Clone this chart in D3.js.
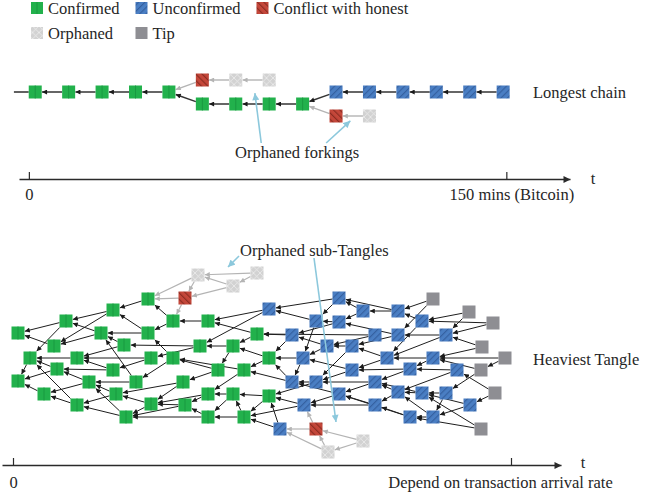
<!DOCTYPE html>
<html><head><meta charset="utf-8">
<script src="https://cdn.jsdelivr.net/npm/d3@7"></script>
<style>
body{margin:0;background:#fff}
svg{display:block}
</style>
</head><body><svg id="c" width="667" height="498"></svg>
<script>
// ---------------- DATA ----------------
const legendLabels = ["Confirmed","Unconfirmed","Conflict with honest","Orphaned","Tip"];
const legendTypes  = ["G","B","R","O","T"];

// Longest chain: [id, time (min), lane, type]
const chainNodes = [
  ["c1",2,0,"G"],["c2",12.5,0,"G"],["c3",23,0,"G"],["c4",33.5,0,"G"],["c5",44,0,"G"],
  ["f1",54.5,-1,"R"],["f2",65,-1,"O"],["f3",75.5,-1,"O"],
  ["c6",54.5,1,"G"],["c7",65,1,"G"],["c8",75.5,1,"G"],["c9",86,1,"G"],
  ["c10",96.5,0,"B"],["c11",107,0,"B"],["c12",117.5,0,"B"],["c13",128,0,"B"],["c14",138.5,0,"B"],["c15",149,0,"B"],
  ["f4",96.5,2,"R"],["f5",107,2,"O"]
];
const chainEdges = [
  ["c2","c1"],["c3","c2"],["c4","c3"],["c5","c4"],
  ["f1","c5"],["f2","f1"],["f3","f2"],
  ["c6","c5"],["c7","c6"],["c8","c7"],["c9","c8"],
  ["c10","c9"],["c11","c10"],["c12","c11"],["c13","c12"],["c14","c13"],["c15","c14"],
  ["f4","c9"],["f5","f4"]
];
const chainLeadIn = -4.7;
const chainTicks = [0,150];
const chainTickLabels = ["0","150 mins (Bitcoin)"];
const chainAnnotations = [[73,4.25,71,0.1],[93.4,4.25,101,2.4]];

// Tangle: [id, time, vertical position]
const tangleConfirmed = [
  ["g1",5,63],["g2",53,51],["g3",100,40],["g4",135,29],["g5",88,63],["g6",135,63],["g7",41,76],["g8",111,75],
  ["g9",17,88],["g10",64,88],["g11",138,88],["g12",160,88],["g13",44,99],["g14",100,100],["g15",5,111],
  ["g16",76,112],["g17",123,112],["g18",170,112],["g19",31,124],["g20",103,124],["g21",64,135],["g22",138,134],
  ["g23",172,135],["g24",113,147],["g25",160,51],["g26",195,51],["g27",187,76],["g28",220,76],["g29",205,100],
  ["g30",231,100],["g31",195,124],["g32",220,124],["g33",195,147],["g34",231,147],["g35",244,64],["g36",256,88],["g37",256,126]
];
const tangleUnconfirmed = [
  ["b1",256,39],["b2",326,28],["b3",350,41],["b4",385,41],["b5",303,51],["b6",326,52],["b7",409,51],
  ["b8",279,65],["b9",362,65],["b10",385,65],["b11",433,65],["b12",314,76],["b13",339,76],["b14",290,88],
  ["b15",374,88],["b16",420,88],["b17",339,100],["b18",397,99],["b19",444,100],["b20",279,112],["b21",303,112],
  ["b22",362,112],["b23",326,124],["b24",385,122],["b25",409,123],["b26",433,123],["b27",291,135],["b28",362,135],
  ["b29",457,135],["b30",397,147],["b31",420,147],["b32",267,159]
];
const tangleTips = [
  ["t1",420,29],["t2",456,42],["t3",480,53],["t4",469,77],["t5",492,88],["t6",468,100],["t7",482,123],["t8",468,159]
];
const tangleConflict = [["r1",172,28],["r2",303,159]];
const tangleOrphaned = [["o1",185,5],["o2",220,16],["o3",244,3],["o4",350,171],["o5",315,182]];

const tangleEdges = [
  ["g9","g15"],["g19","g15"],["g7","g1"],["g13","g15"],["g13","g9"],["g2","g1"],["g2","g9"],["g10","g9"],
  ["g21","g9"],["g21","g19"],["g16","g13"],["g16","g19"],["g5","g2"],["g5","g7"],["g3","g2"],["g3","g7"],
  ["g14","g13"],["g14","g10"],["g20","g16"],["g20","g21"],["g8","g5"],["g8","g10"],["g24","g16"],["g24","g21"],
  ["g17","g16"],["g17","g5"],["g4","g3"],["g6","g5"],["g6","g3"],["g11","g10"],["g11","g14"],["g22","g20"],["g22","g24"],
  ["g12","g6"],["g12","g17"],["g25","g4"],["g25","g6"],["g18","g20"],["g18","g22"],["g23","g24"],["g23","g22"],
  ["g27","g8"],["g27","g11"],["g26","g25"],["g31","g22"],["g31","g23"],["g33","g23"],["g33","g24"],
  ["g29","g18"],["g29","g12"],["g28","g29"],["g28","g27"],["g32","g31"],["g32","g33"],["g30","g31"],["g30","g12"],
  ["g34","g33"],["g34","g32"],["g35","g26"],["g35","g28"],["g36","g28"],["g36","g30"],["g37","g32"],["g37","g34"],
  ["b1","g26"],["b1","g27"],["b8","g35"],["b8","g36"],["b20","g36"],["b20","g30"],["b14","b20"],["b14","g36"],
  ["b27","g37"],["b27","g34"],["b32","g37"],["b32","g34"],["b5","b1"],["b5","b14"],["b21","b20"],["b21","g37"],
  ["b12","b14"],["b12","b8"],["b2","b1"],["b2","b5"],["b6","b5"],["b6","b8"],["b23","b20"],["b23","b27"],
  ["b13","b12"],["b13","b21"],["b17","b21"],["b17","b14"],["b3","b2"],["b3","b6"],["b9","g35"],["b9","b12"],
  ["b22","b23"],["b22","b21"],["b28","b27"],["b28","b23"],["b15","b13"],["b15","b17"],["b4","b2"],["b4","b3"],
  ["b10","b6"],["b10","b13"],["b24","b22"],["b24","b28"],["b18","b17"],["b18","b22"],["b30","b28"],["b30","b23"],
  ["b7","b4"],["b7","b15"],["b25","b24"],["b25","b22"],["b16","b18"],["b16","b15"],["b31","b30"],["b31","b24"],
  ["b11","b10"],["b11","b15"],["b26","b31"],["b26","b25"],["b19","b24"],["b19","b18"],["b29","b31"],["b29","b25"],
  ["t1","b4"],["t1","b10"],["t2","b7"],["t2","b11"],["t3","b7"],["t3","b11"],["t4","b11"],["t4","b16"],
  ["t5","b16"],["t5","t6"],["t6","b26"],["t6","b16"],["t7","b19"],["t7","b29"],["t8","b30"],["t8","b25"]
];
const tangleOrphanEdges = [
  ["r1","g4"],["r1","g25"],["o1","g4"],["o1","r1"],["o2","o1"],["o2","r1"],["o3","o1"],["o3","o2"],
  ["r2","b32"],["r2","b27"],["o4","r2"],["o4","o5"],["o5","r2"],["o5","b32"]
];
const tangleTicks = [0,498];
const tangleTickLabels = ["0","Depend on transaction arrival rate"];
const tangleAnnotations = [[226,-14,215,-3],[301,-12,323,152]];

// ---------------- RENDER ----------------
const FONT = "'Liberation Serif','Times New Roman',serif";
const TXT = "#262626";
const svg = d3.select("#c");
const defs = svg.append("defs");

function hatch(id, fill, stroke, angle, size, sw){
  const p = defs.append("pattern").attr("id",id).attr("patternUnits","userSpaceOnUse")
    .attr("width",size).attr("height",size).attr("patternTransform",`rotate(${angle})`);
  p.append("rect").attr("width",size).attr("height",size).attr("fill",fill);
  p.append("line").attr("x1",0.5).attr("y1",0).attr("x2",0.5).attr("y2",size).attr("stroke",stroke).attr("stroke-width",sw);
}
hatch("pB","#4a7ec3","#3560a0",45,4.5,1.3);
hatch("pR","#c4473a","#8c2c22",-45,4.5,1.3);
{
  const p = defs.append("pattern").attr("id","pO").attr("patternUnits","userSpaceOnUse").attr("width",6.5).attr("height",6.5);
  p.append("rect").attr("width",6.5).attr("height",6.5).attr("fill","#d2d2d2");
  p.append("path").attr("d","M0,0L6.5,6.5M6.5,0L0,6.5").attr("stroke","#ececec").attr("stroke-width",0.8);
}
function marker(id, color, w, h){
  defs.append("marker").attr("id",id).attr("viewBox","0 0 10 10").attr("refX",10).attr("refY",5)
    .attr("markerWidth",w).attr("markerHeight",h).attr("markerUnits","userSpaceOnUse").attr("orient","auto")
    .append("path").attr("d","M0,0L10,5L0,10z").attr("fill",color);
}
marker("mk","#1a1a1a",6,5);
marker("mg","#b4b4b4",6,5);
marker("ma","#2a2a2a",9,7);
marker("mb","#8cc8dc",8,7);

const fills = {G:"#22b14c", B:"url(#pB)", R:"url(#pR)", O:"url(#pO)", T:"#8e8e93"};
const S = 13;

function drawNodes(g, nodes){
  g.selectAll("rect.n").data(nodes).join("rect").attr("class","n")
    .attr("x",d=>d.x-S/2).attr("y",d=>d.y-S/2).attr("width",S).attr("height",S).attr("fill",d=>fills[d.type]);
  g.selectAll("line.n").data(nodes.filter(d=>d.type==="G")).join("line").attr("class","n")
    .attr("x1",d=>d.x).attr("x2",d=>d.x).attr("y1",d=>d.y-S/2).attr("y2",d=>d.y+S/2)
    .attr("stroke","#189640").attr("stroke-width",0.9);
}
function ends(s,t){
  const dx=t.x-s.x, dy=t.y-s.y, m=Math.max(Math.abs(dx),Math.abs(dy));
  const f1=(S/2)/m, f2=(S/2+0.3)/m;
  return {x1:s.x+dx*f1, y1:s.y+dy*f1, x2:t.x-dx*f2, y2:t.y-dy*f2};
}
function drawEdges(g, edges, map, color, width, mk){
  g.selectAll("line").data(edges.map(e=>ends(map.get(e[0]),map.get(e[1])))).join("line")
    .attr("x1",d=>d.x1).attr("y1",d=>d.y1).attr("x2",d=>d.x2).attr("y2",d=>d.y2)
    .attr("stroke",color).attr("stroke-width",width).attr("marker-end",`url(#${mk})`);
}
function text(x,y,str,anchor){
  return svg.append("text").attr("x",x).attr("y",y).attr("font-family",FONT).attr("font-size",16.5)
    .attr("fill",TXT).attr("text-anchor",anchor||"start").text(str);
}

// Legend
{
  const rowY = [8,33];
  const lg = svg.append("g");
  const cols = [];
  let x = 31;
  for(let i=0;i<3;i++){
    cols.push(x);
    const t = text(x+17, rowY[0]+5.5, legendLabels[i]);
    x += 17 + t.node().getComputedTextLength() + 16;
  }
  legendLabels.forEach((lab,i)=>{
    const r = i<3?0:1, c = i<3?i:i-3;
    lg.append("rect").attr("x",cols[c]).attr("y",rowY[r]-6).attr("width",12).attr("height",12).attr("fill",fills[legendTypes[i]]);
    if(legendTypes[i]==="G") lg.append("line").attr("x1",cols[c]+6).attr("x2",cols[c]+6).attr("y1",rowY[r]-6).attr("y2",rowY[r]+6).attr("stroke","#189640").attr("stroke-width",0.9);
    if(r===1) text(cols[c]+17, rowY[r]+5.5, lab);
  });
}

// ---- Longest chain ----
const chainX = d3.scaleLinear().domain([-3.1,170]).range([19,570]);
const chainY = d3.scaleLinear().domain([-1,2]).range([80,116]);
const cNodes = chainNodes.map(d=>({id:d[0], x:chainX(d[1]), y:chainY(d[2]), type:d[3]}));
const cMap = new Map(cNodes.map(d=>[d.id,d]));
const cg = svg.append("g");
cg.append("line").attr("x1",chainX(chainLeadIn)).attr("x2",chainX(chainNodes[0][1])-S/2)
  .attr("y1",chainY(0)).attr("y2",chainY(0)).attr("stroke","#3a3a3a").attr("stroke-width",1.6);
const cBlack = chainEdges.filter(e=>!["R","O"].includes(cMap.get(e[0]).type));
const cGray = chainEdges.filter(e=>["R","O"].includes(cMap.get(e[0]).type));
drawEdges(cg.append("g"), cGray, cMap, "#b4b4b4", 1.4, "mg");
drawEdges(cg.append("g"), cBlack, cMap, "#333", 1.5, "mk");
drawNodes(cg.append("g"), cNodes);
text(533, chainY(0)+5.5, "Longest chain");

// chain annotations
svg.append("g").selectAll("line").data(chainAnnotations).join("line")
  .attr("x1",d=>chainX(d[0])).attr("y1",d=>chainY(d[1])).attr("x2",d=>chainX(d[2])).attr("y2",d=>chainY(d[3]))
  .attr("stroke","#8cc8dc").attr("stroke-width",1.6).attr("marker-end","url(#mb)");
text(235, 157.5, "Orphaned forkings");

// chain axis
{
  const ax = d3.axisBottom(chainX).tickValues(chainTicks).tickSizeInner(-7).tickSizeOuter(0).tickPadding(9)
    .tickFormat((d,i)=>chainTickLabels[i]);
  const g = svg.append("g").attr("transform","translate(0,179)").call(ax)
    .attr("font-family",FONT).attr("font-size",16.5).attr("color","#2a2a2a");
  g.select(".domain").attr("stroke-width",1.5).attr("marker-end","url(#ma)");
  g.selectAll(".tick line").attr("stroke-width",1.2);
  g.selectAll(".tick text").attr("fill",TXT).attr("dx",(d,i)=>i===1?5:0);
  text(593,184,"t","middle");
}

// ---- Tangle ----
const tX = d3.scaleLinear().domain([-11,548]).range([2,561]);
const tY = d3.scaleLinear().domain([0,182]).range([270,452]);
const toNodes = (arr,type)=>arr.map(d=>({id:d[0], x:tX(d[1]), y:tY(d[2]), type}));
const tNodes = [].concat(
  toNodes(tangleConfirmed,"G"), toNodes(tangleUnconfirmed,"B"), toNodes(tangleTips,"T"),
  toNodes(tangleConflict,"R"), toNodes(tangleOrphaned,"O"));
const tMap = new Map(tNodes.map(d=>[d.id,d]));
const tg = svg.append("g");
drawEdges(tg.append("g"), tangleOrphanEdges, tMap, "#b4b4b4", 1.2, "mg");
drawEdges(tg.append("g"), tangleEdges, tMap, "#1e1e1e", 1.0, "mk");
drawNodes(tg.append("g"), tNodes);

svg.append("g").selectAll("line").data(tangleAnnotations).join("line")
  .attr("x1",d=>tX(d[0])).attr("y1",d=>tY(d[1])).attr("x2",d=>tX(d[2])).attr("y2",d=>tY(d[3]))
  .attr("stroke","#8cc8dc").attr("stroke-width",1.6).attr("marker-end","url(#mb)");
text(240, 255.5, "Orphaned sub-Tangles");
text(533, 364.5, "Heaviest Tangle");

{
  const ax = d3.axisBottom(tX).tickValues(tangleTicks).tickSizeInner(-7).tickSizeOuter(0).tickPadding(11)
    .tickFormat((d,i)=>tangleTickLabels[i]);
  const g = svg.append("g").attr("transform","translate(0,465)").call(ax)
    .attr("font-family",FONT).attr("font-size",16.5).attr("color","#2a2a2a");
  g.select(".domain").attr("stroke-width",1.5).attr("marker-end","url(#ma)");
  g.selectAll(".tick line").attr("stroke-width",1.2);
  g.selectAll(".tick text").attr("fill",TXT).attr("dx",(d,i)=>i===1?-11:0);
  text(583,468,"t","middle");
}
</script>
</body></html>
